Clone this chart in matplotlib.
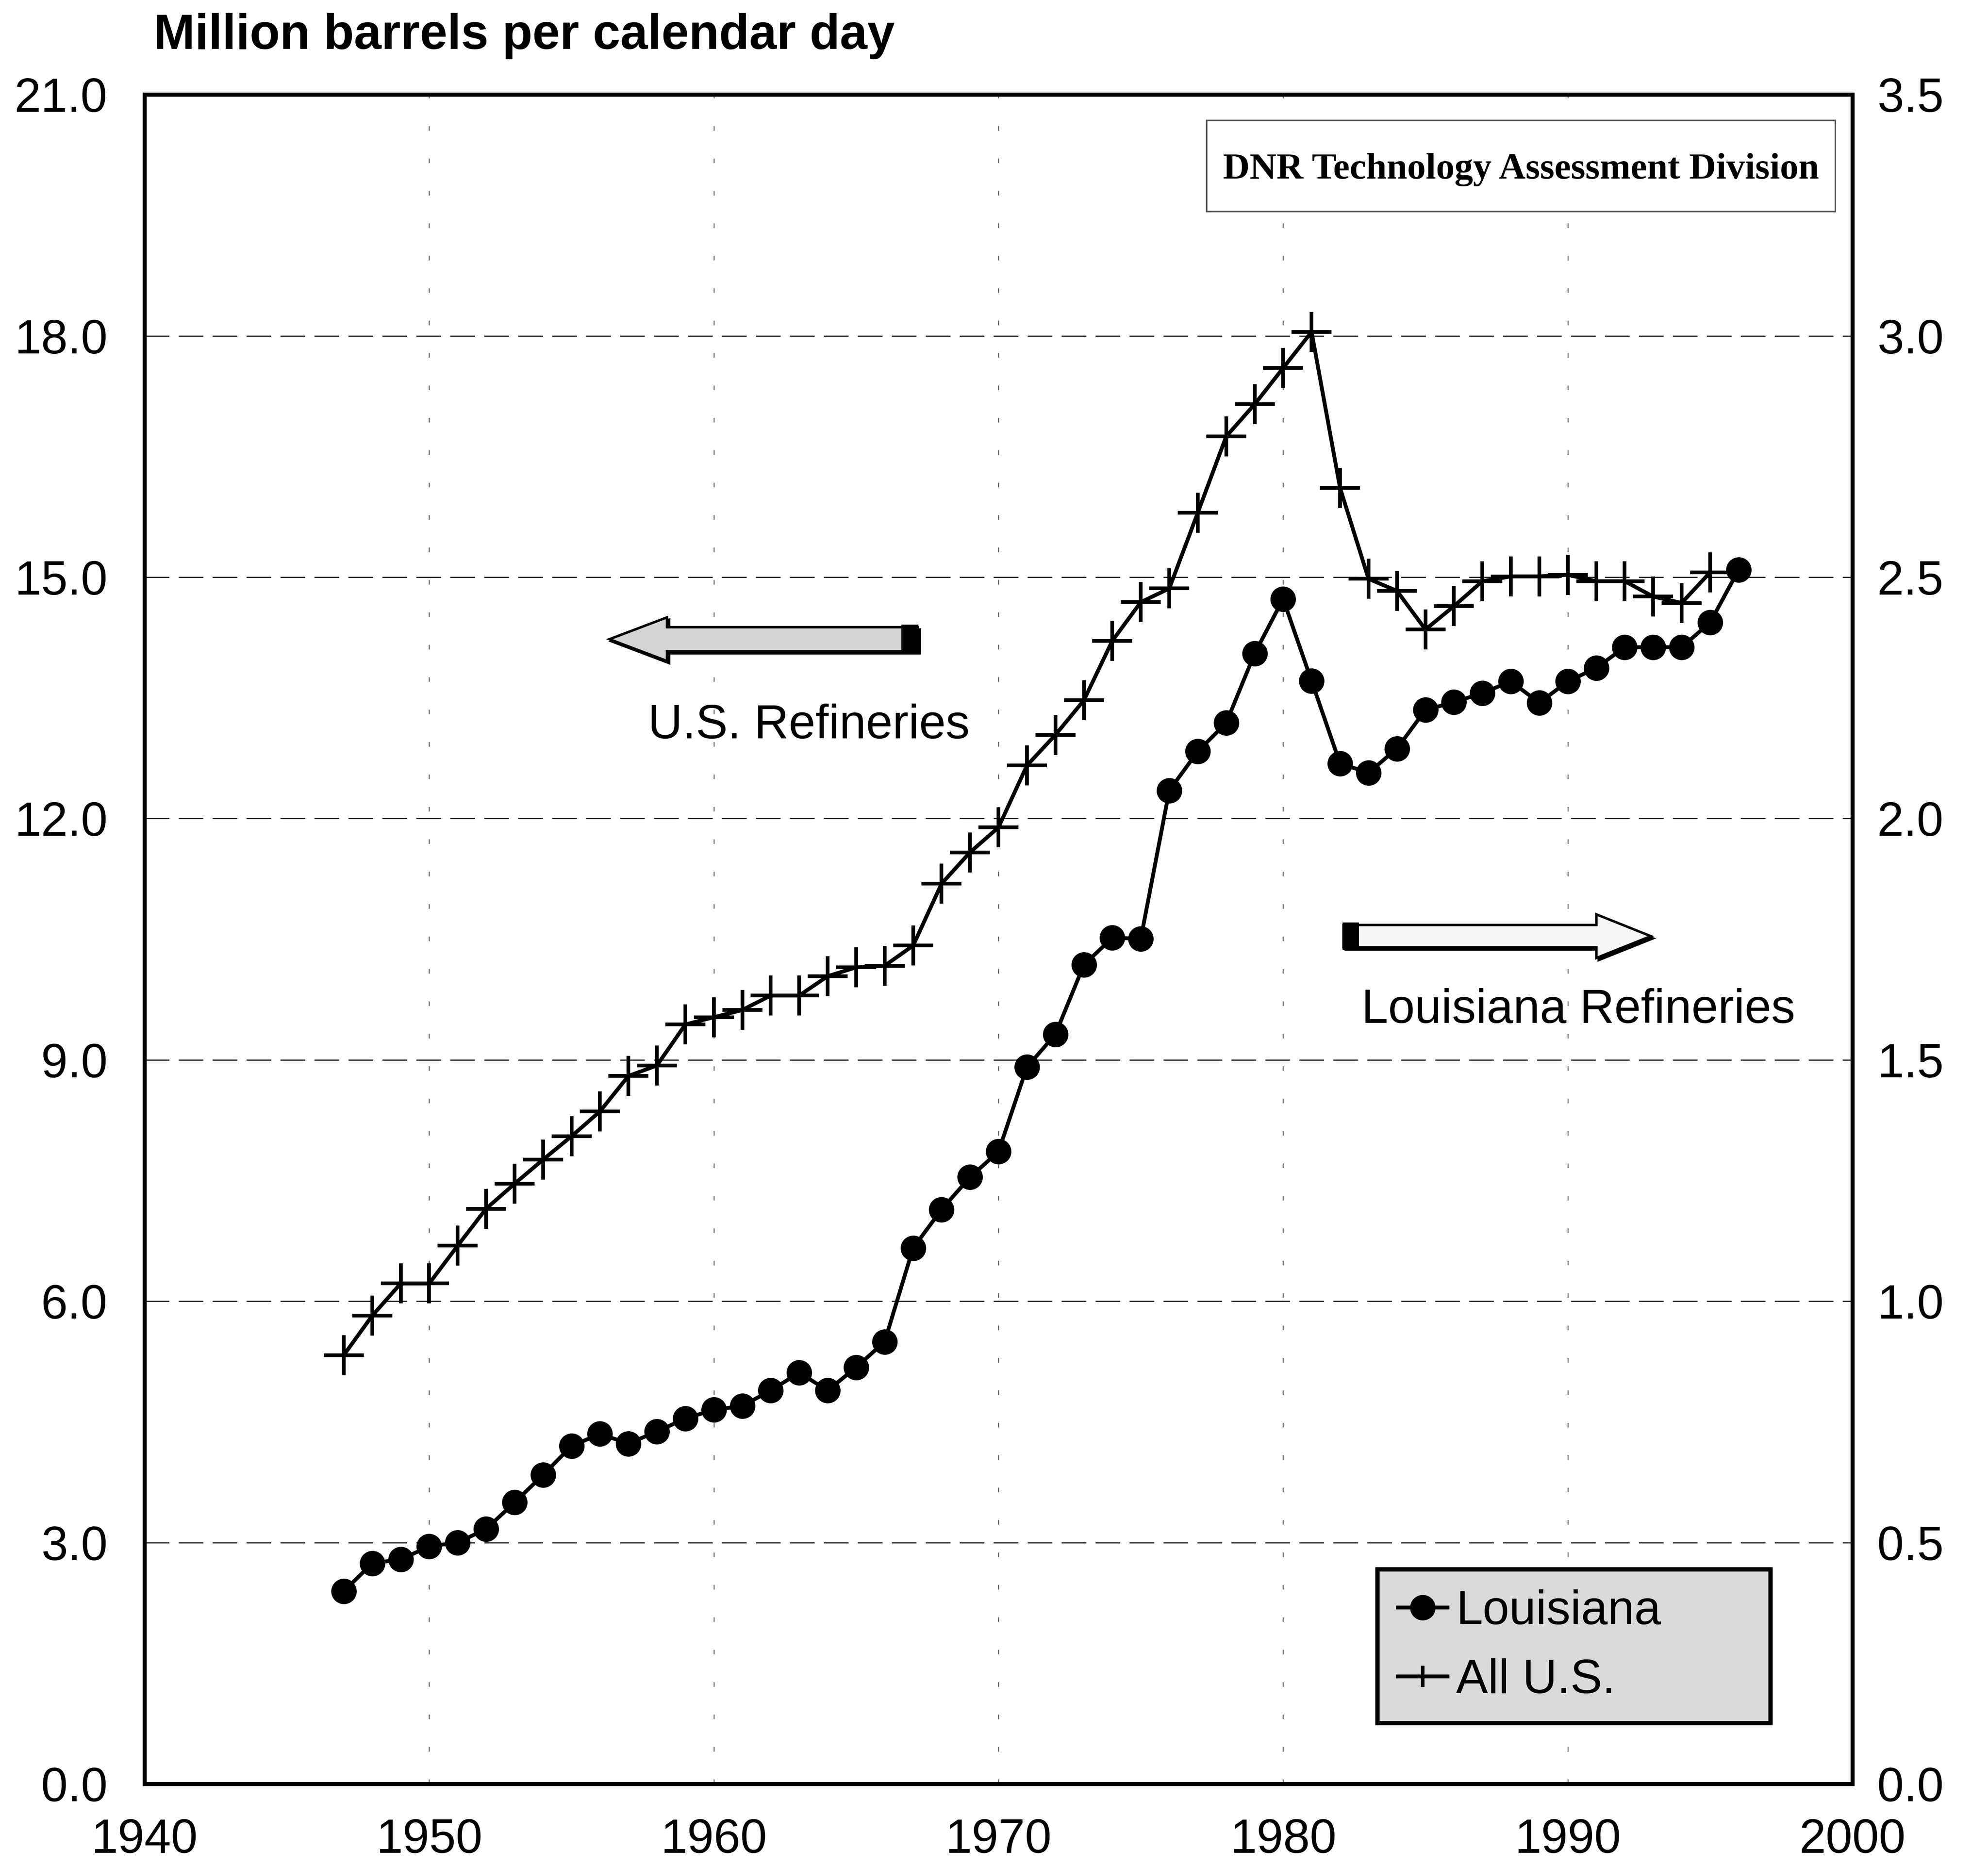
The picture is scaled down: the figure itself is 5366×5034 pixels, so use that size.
import matplotlib
matplotlib.use('Agg')
import matplotlib.pyplot as plt
from matplotlib.lines import Line2D
from matplotlib.patches import Polygon, Rectangle
from matplotlib.ticker import FormatStrFormatter

plt.rcParams['font.family'] = ['Liberation Sans', 'DejaVu Sans']
plt.rcParams['lines.scale_dashes'] = False

# ---------------- data ----------------
years_us = list(range(1947, 1996))
us_capacity = [5.33, 5.82, 6.22, 6.22, 6.69, 7.15, 7.46, 7.76, 8.05, 8.36,
               8.80, 8.93, 9.44, 9.53, 9.62, 9.80, 9.80, 10.04, 10.15, 10.17,
               10.42, 11.19, 11.58, 11.89, 12.66, 13.04, 13.47, 14.21, 14.69, 14.86,
               15.80, 16.75, 17.15, 17.60, 18.05, 16.11, 14.98, 14.83, 14.35, 14.64,
               14.95, 15.01, 15.01, 15.03, 14.95, 14.95, 14.76, 14.68, 15.06]

years_la = list(range(1947, 1997))
la_capacity = [0.399, 0.457, 0.465, 0.492, 0.500, 0.528, 0.583, 0.640, 0.700, 0.725,
               0.705, 0.730, 0.757, 0.775, 0.783, 0.815, 0.852, 0.815, 0.863, 0.916,
               1.110, 1.190, 1.257, 1.310, 1.485, 1.553, 1.697, 1.753, 1.751, 2.058,
               2.139, 2.198, 2.342, 2.455, 2.285, 2.114, 2.095, 2.145, 2.225, 2.241,
               2.260, 2.284, 2.240, 2.284, 2.312, 2.355, 2.355, 2.355, 2.406, 2.515]

x_ticks = [1940, 1950, 1960, 1970, 1980, 1990, 2000]
left_ticks = [0, 3, 6, 9, 12, 15, 18, 21]
right_ticks = [0, 0.5, 1.0, 1.5, 2.0, 2.5, 3.0, 3.5]

title = "Million barrels per calendar day"
watermark = "DNR Technology Assessment Division"
label_us = "U.S. Refineries"
label_la = "Louisiana Refineries"
legend_labels = ["Louisiana", "All U.S."]

# ---------------- figure ----------------
W, H, DPI = 5366, 5034, 300
fig = plt.figure(figsize=(W / DPI, H / DPI), dpi=DPI)
ax = fig.add_axes([0.0727, 0.0435, 0.8591, 0.9058])
ax2 = ax.twinx()

FS = 31
SPINE_LW = 2.6
LINE_LW = 2.5

ax.set_xlim(1940, 2000)
ax.set_ylim(0, 21)
ax2.set_ylim(0, 3.5)
ax.set_xticks(x_ticks)
ax.set_yticks(left_ticks)
ax2.set_yticks(right_ticks)
ax.yaxis.set_major_formatter(FormatStrFormatter('%.1f'))
ax2.yaxis.set_major_formatter(FormatStrFormatter('%.1f'))

ax.tick_params(axis='x', length=0, pad=22, labelsize=FS)
ax.tick_params(axis='y', length=0, pad=24, labelsize=FS)
ax2.tick_params(axis='y', length=0, pad=16, labelsize=FS)

for a in (ax, ax2):
    for s in a.spines.values():
        s.set_linewidth(SPINE_LW)
        s.set_color('black')

# grid
ax.yaxis.grid(True, color='#222222', linewidth=0.8, dashes=(16, 6))
ax.xaxis.grid(True, color='#555555', linewidth=0.6, dashes=(3, 18))
ax.set_axisbelow(True)

# series
ax.plot(years_us, us_capacity, color='black', linewidth=LINE_LW, marker='+',
        markersize=26, markeredgewidth=2.4, zorder=3, clip_on=False)
ax2.plot(years_la, la_capacity, color='black', linewidth=LINE_LW, marker='o',
         markersize=15.5, markerfacecolor='black', markeredgecolor='black',
         zorder=3, clip_on=False)

# title
fig.text(0.0773, 0.9738, title, fontsize=32, fontweight='bold', va='baseline', ha='left')

# watermark box
ax2.add_patch(Rectangle((0.622, 0.9307), 0.368, 0.0539, transform=ax2.transAxes,
                        facecolor='white', edgecolor='#555555', linewidth=1.0, zorder=5))
ax2.text(0.806, 0.9556, watermark, transform=ax2.transAxes, ha='center', va='center',
         fontsize=24, fontweight='bold', family=['Liberation Serif', 'DejaVu Serif'], zorder=6)


# arrows
def arrow(x_tail, x_base, x_tip, yc, shaft_h, head_h, block_w, fill):
    d = 1 if x_tip > x_tail else -1
    pts = [(x_tail, yc - shaft_h), (x_base, yc - shaft_h), (x_base, yc - head_h),
           (x_tip, yc), (x_base, yc + head_h), (x_base, yc + shaft_h), (x_tail, yc + shaft_h)]
    sx, sy = 0.0013, -0.0013
    shadow = Polygon([(px + sx, py + sy) for px, py in pts], closed=True,
                     transform=ax2.transAxes, facecolor='black', edgecolor='black',
                     linewidth=1.5, zorder=6)
    body = Polygon(pts, closed=True, transform=ax2.transAxes, facecolor=fill,
                   edgecolor='black', linewidth=1.6, zorder=7)
    ax2.add_patch(shadow)
    ax2.add_patch(body)
    bx = x_tail if d == 1 else x_tail - block_w
    ax2.add_patch(Rectangle((bx, yc - shaft_h - 0.001), block_w, 2 * shaft_h + 0.002,
                            transform=ax2.transAxes, facecolor='black', edgecolor='black',
                            linewidth=1.0, zorder=8))


arrow(0.4527, 0.3059, 0.2722, 0.6776, 0.0071, 0.0129, 0.0091, '#d4d4d4')
arrow(0.7020, 0.8501, 0.8820, 0.5018, 0.0066, 0.0129, 0.0086, '#f6f6f6')

ax2.text(0.389, 0.6262, label_us, transform=ax2.transAxes, ha='center', va='center',
         fontsize=31, zorder=6)
ax2.text(0.8395, 0.4579, label_la, transform=ax2.transAxes, ha='center', va='center',
         fontsize=31, zorder=6)

# legend
handles = [Line2D([], [], color='black', linewidth=LINE_LW, marker='o', markersize=15.5),
           Line2D([], [], color='black', linewidth=LINE_LW, marker='+', markersize=14,
                  markeredgewidth=2.4)]
leg = ax2.legend(handles, legend_labels, loc='upper left', mode='expand',
                 bbox_to_anchor=(0.722, 0.127, 0.230, 0.0), fontsize=31, frameon=True,
                 fancybox=False, shadow=False, handlelength=1.04, handletextpad=0.18,
                 borderpad=0.42, labelspacing=0.5, borderaxespad=0.0)
frame = leg.get_frame()
frame.set_facecolor('#dadada')
frame.set_edgecolor('black')
frame.set_linewidth(2.8)
frame.set_alpha(1.0)
leg.set_zorder(10)

fig.savefig('out.png', dpi=DPI)
